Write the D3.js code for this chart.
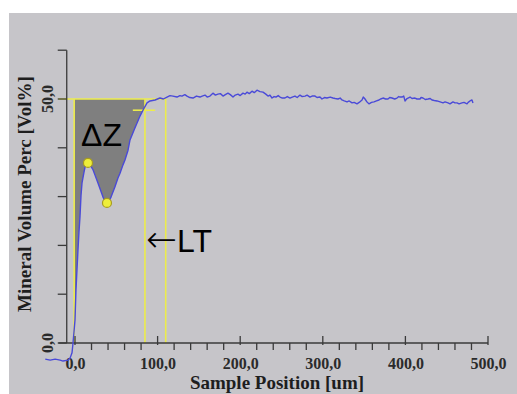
<!DOCTYPE html>
<html>
<head>
<meta charset="utf-8">
<script src="https://cdn.jsdelivr.net/npm/d3@7"></script>
<style>
  html, body { margin: 0; padding: 0; background: #fff; }
  svg { display: block; }
</style>
</head>
<body>
<svg id="chart" width="517" height="394"></svg>
<script>
// Mineral volume profile along the sample position
const positionUm = [
  -36, -30, -24, -18, -14.5, -8.5, -6, -3.6, -2.4, -1.2, 0, 1.2, 2.4, 3.6, 4.8, 6, 7.3, 8.5,
  10.9, 12.1, 13.3, 15.7, 18.2, 21.8, 24.2, 27.8, 30.3, 33.9, 36.3, 38.7, 41.2, 43.6, 48.4,
  52, 54.5, 58.1, 60.5, 64.2, 66.6, 71.4, 75.1, 78.7, 82.3, 87.2, 90.8, 96.9, 102.9, 107,
  111.4, 115, 118.6, 123.5, 127, 129.5, 133, 135.6, 139, 142.9, 147, 151.3, 154, 157.4, 160,
  163.4, 167, 170, 173, 176, 179.2, 182, 185.2, 188, 191.3, 194, 197.3, 200, 203.4, 206,
  208.2, 211, 214.3, 217, 220.3, 224, 227.6, 231, 233.7, 236, 238.5, 241, 243.3, 246, 248.2,
  251, 254.2, 257, 260.3, 263, 266.3, 269, 272.4, 275, 278.5, 281, 284.5, 287, 290.6, 293,
  296.6, 299, 302, 305, 309, 312.3, 315, 318.4, 321, 323.2, 326, 329.3, 332, 335.4, 338,
  341.4, 344, 347.5, 349, 351.1, 353, 355.9, 359, 362, 365, 368, 370, 372.9, 376, 378.9, 381,
  383.8, 387, 389.8, 392, 393.5, 395.9, 398, 399.5, 402, 405.6, 408, 411.6, 414, 417.7, 419,
  421.3, 424, 427.4, 430, 432.2, 435, 438.3, 442, 445.5, 448, 451.6, 454, 457.6, 460, 462.5,
  465, 468.5, 471, 474.6, 476, 478.2, 480.6, 481.8
];
const volumePct = [
  -3.3, -3.5, -3.3, -3.5, -3.7, -3.5, -3.1, -2.0, 0, 2.3, 4.7, 10.9, 15, 19, 22.7, 25.8, 30.3, 32.8,
  35, 36, 36.7, 36.9, 36.5, 35.5, 34.4, 32.8, 31.6, 29.9, 29.1, 28.7, 29.1, 29.9, 32,
  33.8, 34.8, 36.5, 37.5, 39.5, 41.6, 43.6, 45.1, 46.5, 47.7, 49.2, 49.6, 49.8, 50.2, 50.0,
  50.4, 50.7, 50.6, 50.4, 50.7, 50.6, 50.9, 50.6, 50.3, 50.2, 50.6, 50.4, 50.6, 50.8, 50.4,
  50.6, 51.2, 50.8, 51.0, 51.1, 50.6, 50.9, 51.2, 50.9, 50.4, 50.8, 51.0, 50.7, 51.2, 51.0,
  51.4, 51.1, 51.6, 51.3, 51.8, 51.5, 51.4, 51.0, 50.6, 50.8, 50.2, 50.5, 50.4, 50.7, 50.4,
  50.2, 50.2, 50.5, 50.2, 50.4, 50.6, 50.3, 50.8, 50.5, 50.6, 50.8, 50.4, 50.6, 50.6, 50.3,
  50.4, 50.0, 50.3, 50.2, 50.4, 50.2, 50.1, 50.0, 50.2, 49.8, 49.6, 49.4, 49.6, 49.2, 49.3,
  49.0, 49.3, 49.8, 50.4, 50.0, 49.5, 49.0, 49.3, 49.4, 49.6, 49.8, 50.0, 50.2, 50.0, 50.0, 50.3,
  50.2, 50.0, 50.2, 50.5, 50.4, 50.4, 50.6, 49.6, 50.1, 50.4, 50.1, 50.2, 50.0, 50.0, 50.3,
  50.2, 49.9, 50.0, 50.1, 49.8, 49.7, 49.6, 49.4, 49.2, 49.4, 49.2, 49.0, 49.4, 49.2, 49.2,
  49.0, 49.2, 49.3, 49.0, 49.3, 49.6, 49.8, 49.2
];

// Axis ticks and labels
const xMajorTicks = [0, 100, 200, 300, 400, 500];
const xMinorTicks = [20, 40, 60, 80, 120, 140, 160, 180, 220, 240, 260, 280, 320, 340, 360, 380, 420, 440, 460, 480];
const xTickLabels = ["0,0", "100,0", "200,0", "300,0", "400,0", "500,0"];
const yTicks = [0, 10, 20, 30, 40, 50, 60];
const yLabelTicks = [0, 50];
const yTickLabels = ["0,0", "50,0"];

// Evaluation markers: sound level, lesion edges, threshold crossing
const soundLevel = [50];
const lesionEdgesUm = [-1, 84.7, 109.8];
const thresholdLevel = [47.7];
const thresholdSpanUm = [70, 97];
// window in which the subsurface peak and trough are searched
const bodyWindowUm = [12, 55];

const svg = d3.select("#chart");
const W = 517, H = 394;

const x = d3.scaleLinear().domain([0, 500]).range([75, 488]);
const y = d3.scaleLinear().domain([0, 60]).range([343, 50.2]);

const axisColor = "#3a3a3a";
const yellow = "#ecec4c";
const serif = "'Liberation Serif', 'Times New Roman', serif";
const sans = "'Liberation Sans', Arial, sans-serif";

// panel background
svg.append("rect").attr("width", W).attr("height", H).attr("fill", "#ffffff");
svg.append("rect").attr("x", 9).attr("y", 13).attr("width", W - 9).attr("height", H - 13)
  .attr("fill", "#c6c5c9");

const pts = positionUm.map((p, i) => ({ p, v: volumePct[i] }));

// mineral loss area between sound level and the profile
const edgeL = lesionEdgesUm[0], edgeM = lesionEdgesUm[1], edgeR = lesionEdgesUm[2];
svg.append("clipPath").attr("id", "lossClip")
  .append("rect")
  .attr("x", x(edgeL)).attr("y", y(60))
  .attr("width", x(edgeM) - x(edgeL)).attr("height", y(0) - y(60));

const lossArea = d3.area()
  .x(d => x(d.p))
  .y0(y(soundLevel[0]))
  .y1(d => y(Math.min(d.v, soundLevel[0])));

svg.append("path")
  .datum(pts.filter(d => d.p >= -3 && d.p <= 112))
  .attr("d", lossArea)
  .attr("fill", "#7f7f7f")
  .attr("clip-path", "url(#lossClip)");

// yellow evaluation lines
const yl = svg.append("g").attr("stroke", yellow).attr("stroke-width", 1.6).attr("fill", "none");
yl.append("line")
  .attr("x1", x(-20)).attr("x2", x(edgeR))
  .attr("y1", y(soundLevel[0])).attr("y2", y(soundLevel[0]));
lesionEdgesUm.forEach(e => {
  yl.append("line")
    .attr("x1", x(e)).attr("x2", x(e))
    .attr("y1", y(soundLevel[0])).attr("y2", y(0));
});
yl.append("line")
  .attr("x1", x(thresholdSpanUm[0])).attr("x2", x(thresholdSpanUm[1]))
  .attr("y1", y(thresholdLevel[0])).attr("y2", y(thresholdLevel[0]));

// axes
const ax = svg.append("g").attr("stroke", axisColor).attr("stroke-width", 1.3);
const yAxisX = x(-10);
ax.append("line").attr("x1", yAxisX).attr("x2", yAxisX).attr("y1", y(60)).attr("y2", y(0));
ax.append("line").attr("x1", x(-20)).attr("x2", x(500)).attr("y1", y(0)).attr("y2", y(0));

ax.selectAll(".ytick").data(yTicks).join("line")
  .attr("x1", yAxisX - 9).attr("x2", yAxisX)
  .attr("y1", d => y(d)).attr("y2", d => y(d));

ax.selectAll(".xmajor").data(xMajorTicks).join("line")
  .attr("x1", d => x(d)).attr("x2", d => x(d))
  .attr("y1", y(0) - 7).attr("y2", y(0) + 2);

ax.selectAll(".xminor").data(xMinorTicks).join("line")
  .attr("x1", d => x(d)).attr("x2", d => x(d))
  .attr("y1", y(0)).attr("y2", y(0) + 7);

// x tick labels through d3 axis (tick lines hidden)
const xAxis = d3.axisBottom(x)
  .tickValues(xMajorTicks)
  .tickSize(0)
  .tickPadding(15)
  .tickFormat((d, i) => xTickLabels[i]);
const gx = svg.append("g").attr("transform", `translate(0,${y(0)})`).call(xAxis);
gx.select(".domain").remove();
gx.selectAll("text")
  .attr("font-family", serif).attr("font-size", 16).attr("font-weight", "bold")
  .attr("fill", "#2b2b2b");

// y tick labels, rotated
svg.selectAll(".ylab").data(yLabelTicks).join("text")
  .attr("transform", d => `translate(53,${y(d)}) rotate(-90)`)
  .attr("text-anchor", "middle")
  .attr("font-family", serif).attr("font-size", 16).attr("font-weight", "bold")
  .attr("fill", "#2b2b2b")
  .text((d, i) => yTickLabels[i]);

// profile line
svg.append("path")
  .datum(pts)
  .attr("d", d3.line().x(d => x(d.p)).y(d => y(d.v)))
  .attr("fill", "none")
  .attr("stroke", "#4a4ad8")
  .attr("stroke-width", 1.4)
  .attr("stroke-linejoin", "round");

// local extrema of the lesion body
const body = pts.filter(d => d.p >= bodyWindowUm[0] && d.p <= bodyWindowUm[1]);
const peak = body[d3.maxIndex(body, d => d.v)];
const trough = body[d3.minIndex(body, d => d.v)];
svg.selectAll(".ext").data([peak, trough]).join("circle")
  .attr("cx", d => x(d.p)).attr("cy", d => y(d.v))
  .attr("r", 4.5)
  .attr("fill", "#eeee3a")
  .attr("stroke", "#a89c20")
  .attr("stroke-width", 1.2);

// annotations
svg.append("text")
  .attr("x", 81).attr("y", 146)
  .attr("font-family", sans).attr("font-size", 32)
  .attr("fill", "#000")
  .text("ΔZ");
const lt = svg.append("text")
  .attr("x", 146).attr("y", 252)
  .attr("font-family", sans).attr("font-size", 32)
  .attr("fill", "#000");
lt.append("tspan")
  .attr("font-family", "'DejaVu Sans', sans-serif")
  .attr("font-size", 37)
  .attr("font-weight", 200)
  .text("←");
lt.append("tspan").text("LT");

// axis titles
svg.append("text")
  .attr("x", 277).attr("y", 389)
  .attr("text-anchor", "middle")
  .attr("font-family", serif).attr("font-size", 19).attr("font-weight", "bold")
  .attr("fill", "#1e1e1e")
  .text("Sample Position [um]");
svg.append("text")
  .attr("transform", "translate(31,194) rotate(-90)")
  .attr("text-anchor", "middle")
  .attr("font-family", serif).attr("font-size", 19).attr("font-weight", "bold")
  .attr("fill", "#1e1e1e")
  .text("Mineral Volume Perc [Vol%]");
</script>
</body>
</html>
